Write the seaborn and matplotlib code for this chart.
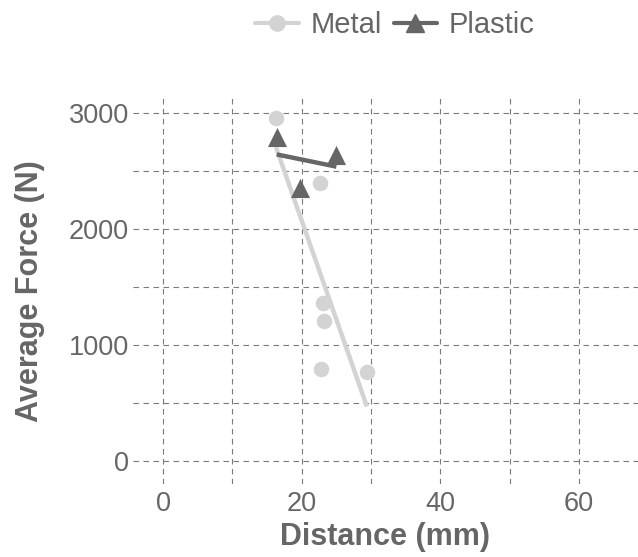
import matplotlib
matplotlib.use("Agg")
import matplotlib.pyplot as plt
from matplotlib.lines import Line2D
from matplotlib.ticker import MultipleLocator
import pandas as pd
import seaborn as sns

# data
metal_distance = [16.3, 22.6, 23.0, 23.2, 22.8, 29.4]
metal_force = [2957, 2399, 1365, 1209, 799, 770]
plastic_distance = [16.4, 25.0, 19.8]
plastic_force = [2796, 2638, 2351]

materials = ["Metal", "Plastic"]
colors = {"Metal": "#d3d3d3", "Plastic": "#666666"}
markers = {"Metal": "o", "Plastic": "^"}
sizes = {"Metal": 125, "Plastic": 190}

df = pd.DataFrame({
    "Distance": metal_distance + plastic_distance,
    "Force": metal_force + plastic_force,
    "Material": ["Metal"] * len(metal_distance) + ["Plastic"] * len(plastic_distance),
})

sns.set_style("white")
plt.rcParams["font.family"] = ["Liberation Sans", "DejaVu Sans"]
text_gray = "#666666"

fig = plt.figure(figsize=(6.38, 5.57), dpi=100)
ax = fig.add_axes([133 / 638, 1 - 484 / 557, 505 / 638, (484 - 98) / 557])

for mat in materials:
    sub = df[df["Material"] == mat]
    sns.regplot(data=sub, x="Distance", y="Force", ax=ax, ci=None, truncate=True,
                marker=markers[mat], color=colors[mat],
                scatter_kws={"s": sizes[mat], "alpha": 1, "linewidths": 0, "zorder": 3},
                line_kws={"lw": 3.2, "zorder": 2, "solid_capstyle": "butt"})

ax.set_xlim(-4.33, 68.5)
ax.set_ylim(-195, 3130)
ax.xaxis.set_major_locator(MultipleLocator(20))
ax.xaxis.set_minor_locator(MultipleLocator(10))
ax.yaxis.set_major_locator(MultipleLocator(1000))
ax.yaxis.set_minor_locator(MultipleLocator(500))
ax.grid(True, which="both", linestyle=(0, (5, 4)), color="#7a7a7a", linewidth=0.8)
ax.set_axisbelow(True)
for s in ax.spines.values():
    s.set_visible(False)
ax.tick_params(which="both", length=0, labelsize=19.5, labelcolor=text_gray)
ax.tick_params(axis="x", pad=5)
ax.tick_params(axis="y", pad=3)

ax.set_xlabel("Distance (mm)", fontsize=22, fontweight="bold", color=text_gray, labelpad=4)
ax.set_ylabel("Average Force (N)", fontsize=22, fontweight="bold", color=text_gray, labelpad=17)

handles = [Line2D([], [], color=colors[m], marker=markers[m], lw=3,
                  markersize=11 if m == "Metal" else 13) for m in materials]
fig.legend(handles, materials, loc="center", bbox_to_anchor=(395 / 638, 1 - 25 / 557),
           ncol=2, frameon=False, fontsize=21, labelcolor=text_gray,
           handlelength=1.5, handletextpad=0.4, columnspacing=0.4)

fig.savefig("out.png", dpi=100)
